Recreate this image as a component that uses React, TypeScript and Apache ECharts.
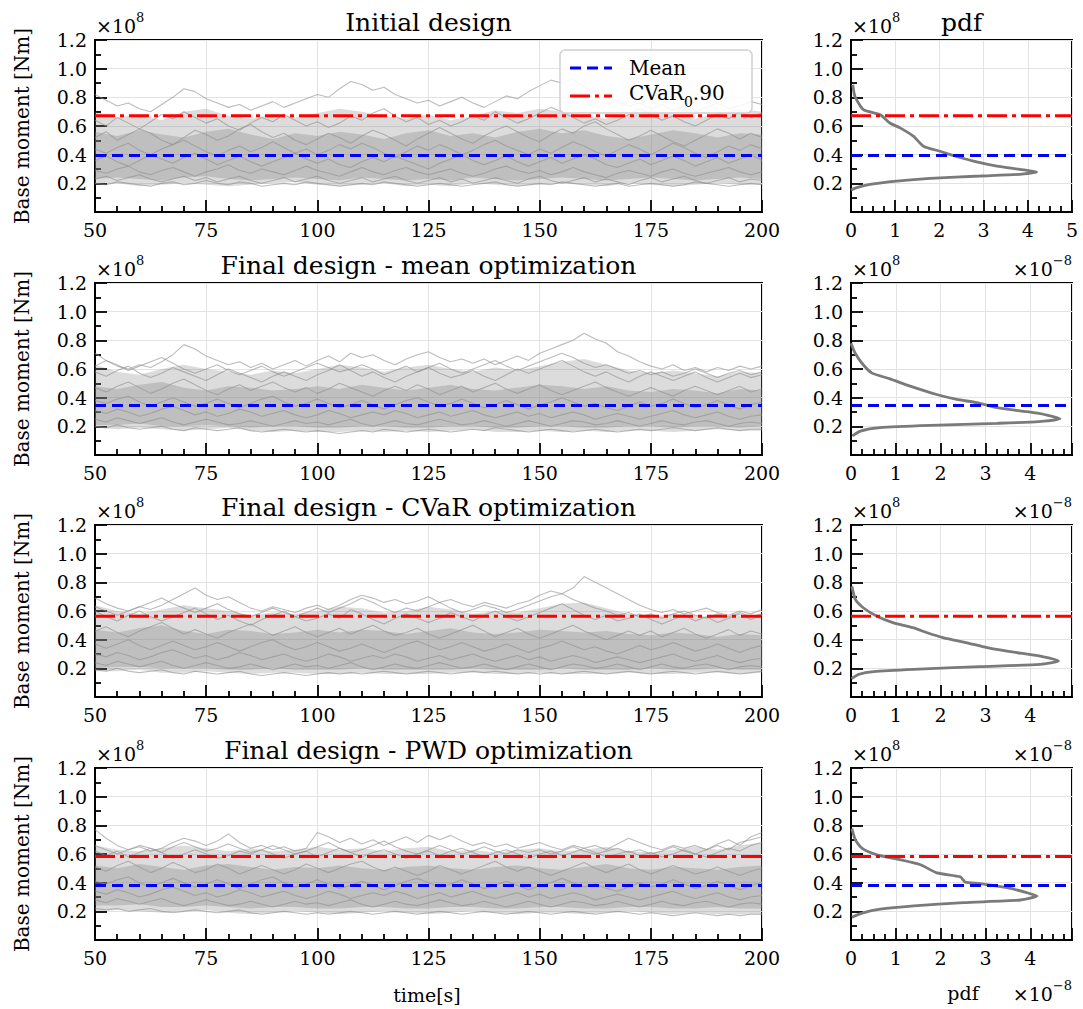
import React, { useEffect, useRef } from 'react';
import * as echarts from 'echarts';

// ---------- time samples ----------
const T_FINE = [50, 52.5, 55, 57.5, 60, 62.5, 65, 67.5, 70, 72.5, 75, 77.5, 80, 82.5, 85, 87.5, 90, 92.5, 95, 97.5, 100, 102.5, 105, 107.5, 110, 112.5, 115, 117.5, 120, 122.5, 125, 127.5, 130, 132.5, 135, 137.5, 140, 142.5, 145, 147.5, 150, 152.5, 155, 157.5, 160, 162.5, 165, 167.5, 170, 172.5, 175, 177.5, 180, 182.5, 185, 187.5, 190, 192.5, 195, 197.5, 200];
const T_BAND = [50, 55, 60, 65, 70, 75, 80, 85, 90, 95, 100, 105, 110, 115, 120, 125, 130, 135, 140, 145, 150, 155, 160, 165, 170, 175, 180, 185, 190, 195, 200];

// ---------- panel 1: initial design (x1e8 Nm) ----------
const P1_TRACES = [
  [0.82, 0.78, 0.74, 0.76, 0.72, 0.70, 0.75, 0.80, 0.86, 0.84, 0.79, 0.76, 0.73, 0.75, 0.71, 0.74, 0.77, 0.73, 0.76, 0.79, 0.82, 0.80, 0.86, 0.91, 0.89, 0.85, 0.87, 0.82, 0.79, 0.76, 0.78, 0.74, 0.77, 0.80, 0.76, 0.73, 0.77, 0.81, 0.79, 0.84, 0.88, 0.92, 0.90, 0.93, 0.87, 0.84, 0.80, 0.77, 0.74, 0.76, 0.72, 0.75, 0.71, 0.74, 0.70, 0.73, 0.76, 0.72, 0.74, 0.77, 0.75],
  [0.64, 0.60, 0.66, 0.62, 0.58, 0.63, 0.68, 0.65, 0.70, 0.66, 0.62, 0.65, 0.60, 0.57, 0.62, 0.66, 0.63, 0.68, 0.64, 0.60, 0.63, 0.59, 0.62, 0.67, 0.64, 0.69, 0.72, 0.67, 0.63, 0.66, 0.61, 0.64, 0.60, 0.63, 0.67, 0.64, 0.70, 0.66, 0.62, 0.65, 0.69, 0.73, 0.70, 0.66, 0.62, 0.65, 0.61, 0.64, 0.68, 0.72, 0.68, 0.64, 0.67, 0.63, 0.60, 0.64, 0.68, 0.65, 0.70, 0.66, 0.69],
  [0.52, 0.56, 0.50, 0.54, 0.58, 0.55, 0.50, 0.47, 0.52, 0.57, 0.54, 0.50, 0.53, 0.58, 0.61, 0.56, 0.52, 0.55, 0.50, 0.47, 0.51, 0.55, 0.52, 0.48, 0.53, 0.57, 0.54, 0.50, 0.46, 0.51, 0.55, 0.59, 0.55, 0.51, 0.48, 0.53, 0.57, 0.60, 0.56, 0.52, 0.49, 0.54, 0.58, 0.55, 0.60, 0.63, 0.58, 0.54, 0.50, 0.53, 0.57, 0.53, 0.49, 0.46, 0.50, 0.54, 0.58, 0.55, 0.51, 0.55, 0.52],
  [0.44, 0.41, 0.45, 0.48, 0.43, 0.40, 0.44, 0.47, 0.50, 0.46, 0.42, 0.39, 0.43, 0.46, 0.42, 0.45, 0.49, 0.45, 0.41, 0.44, 0.40, 0.43, 0.47, 0.44, 0.48, 0.45, 0.41, 0.38, 0.42, 0.46, 0.43, 0.47, 0.44, 0.40, 0.43, 0.47, 0.50, 0.46, 0.43, 0.40, 0.44, 0.41, 0.45, 0.49, 0.46, 0.42, 0.39, 0.43, 0.47, 0.44, 0.40, 0.44, 0.48, 0.45, 0.41, 0.38, 0.42, 0.46, 0.43, 0.47, 0.44],
  [0.36, 0.39, 0.35, 0.32, 0.36, 0.40, 0.37, 0.34, 0.38, 0.41, 0.37, 0.33, 0.36, 0.39, 0.35, 0.32, 0.35, 0.38, 0.41, 0.37, 0.34, 0.37, 0.33, 0.31, 0.35, 0.38, 0.35, 0.39, 0.36, 0.33, 0.30, 0.34, 0.37, 0.40, 0.36, 0.33, 0.36, 0.39, 0.35, 0.32, 0.35, 0.38, 0.34, 0.37, 0.40, 0.37, 0.33, 0.31, 0.34, 0.37, 0.33, 0.36, 0.39, 0.36, 0.32, 0.35, 0.38, 0.34, 0.37, 0.40, 0.36],
  [0.29, 0.27, 0.30, 0.32, 0.28, 0.26, 0.29, 0.31, 0.28, 0.25, 0.28, 0.30, 0.33, 0.29, 0.27, 0.30, 0.28, 0.26, 0.29, 0.32, 0.29, 0.27, 0.25, 0.28, 0.31, 0.28, 0.26, 0.29, 0.31, 0.28, 0.26, 0.28, 0.30, 0.27, 0.25, 0.27, 0.30, 0.32, 0.29, 0.27, 0.29, 0.26, 0.28, 0.31, 0.28, 0.26, 0.24, 0.27, 0.29, 0.27, 0.25, 0.28, 0.30, 0.27, 0.25, 0.27, 0.29, 0.31, 0.28, 0.26, 0.28],
  [0.23, 0.25, 0.22, 0.24, 0.26, 0.23, 0.21, 0.23, 0.25, 0.22, 0.24, 0.21, 0.23, 0.25, 0.22, 0.20, 0.22, 0.24, 0.21, 0.23, 0.25, 0.22, 0.20, 0.22, 0.24, 0.21, 0.23, 0.25, 0.22, 0.20, 0.22, 0.24, 0.21, 0.23, 0.20, 0.22, 0.24, 0.22, 0.20, 0.23, 0.25, 0.22, 0.20, 0.22, 0.24, 0.21, 0.23, 0.21, 0.19, 0.22, 0.24, 0.21, 0.23, 0.25, 0.22, 0.20, 0.22, 0.24, 0.21, 0.23, 0.22],
  [0.20, 0.19, 0.21, 0.20, 0.19, 0.18, 0.20, 0.21, 0.19, 0.20, 0.22, 0.20, 0.19, 0.21, 0.20, 0.18, 0.19, 0.20, 0.19, 0.21, 0.20, 0.19, 0.18, 0.19, 0.20, 0.19, 0.21, 0.20, 0.19, 0.18, 0.19, 0.20, 0.19, 0.18, 0.19, 0.20, 0.21, 0.19, 0.18, 0.19, 0.20, 0.19, 0.21, 0.20, 0.19, 0.18, 0.19, 0.20, 0.18, 0.19, 0.20, 0.19, 0.18, 0.19, 0.21, 0.20, 0.19, 0.18, 0.19, 0.20, 0.19],
];
const P1_OUTER_LO = [0.19, 0.20, 0.18, 0.19, 0.20, 0.19, 0.18, 0.19, 0.20, 0.21, 0.19, 0.18, 0.19, 0.20, 0.18, 0.19, 0.18, 0.20, 0.19, 0.18, 0.19, 0.20, 0.19, 0.18, 0.20, 0.19, 0.18, 0.19, 0.20, 0.19, 0.19];
const P1_OUTER_HI = [0.70, 0.66, 0.68, 0.64, 0.70, 0.72, 0.67, 0.65, 0.68, 0.66, 0.69, 0.72, 0.70, 0.67, 0.65, 0.68, 0.64, 0.67, 0.71, 0.69, 0.72, 0.70, 0.67, 0.65, 0.68, 0.71, 0.68, 0.65, 0.69, 0.72, 0.70];
const P1_CORE_LO = [0.23, 0.24, 0.23, 0.22, 0.24, 0.25, 0.23, 0.22, 0.23, 0.24, 0.23, 0.22, 0.24, 0.23, 0.22, 0.23, 0.22, 0.24, 0.23, 0.22, 0.23, 0.24, 0.23, 0.22, 0.23, 0.24, 0.23, 0.22, 0.23, 0.24, 0.23];
const P1_CORE_HI = [0.56, 0.53, 0.57, 0.54, 0.52, 0.56, 0.58, 0.54, 0.51, 0.55, 0.53, 0.56, 0.54, 0.51, 0.55, 0.57, 0.53, 0.55, 0.52, 0.56, 0.58, 0.55, 0.57, 0.53, 0.51, 0.54, 0.57, 0.55, 0.52, 0.55, 0.54];

// ---------- panel 2: mean optimization ----------
const P2_TRACES = [
  [0.71, 0.66, 0.62, 0.60, 0.63, 0.61, 0.65, 0.70, 0.77, 0.74, 0.69, 0.66, 0.63, 0.65, 0.61, 0.64, 0.60, 0.63, 0.66, 0.62, 0.66, 0.69, 0.65, 0.71, 0.68, 0.70, 0.66, 0.63, 0.67, 0.70, 0.72, 0.68, 0.65, 0.67, 0.64, 0.67, 0.63, 0.66, 0.69, 0.66, 0.71, 0.74, 0.77, 0.80, 0.85, 0.81, 0.78, 0.72, 0.69, 0.65, 0.62, 0.60, 0.63, 0.59, 0.61, 0.58, 0.61, 0.59, 0.62, 0.60, 0.62],
  [0.58, 0.55, 0.59, 0.62, 0.57, 0.54, 0.57, 0.61, 0.58, 0.55, 0.52, 0.56, 0.60, 0.57, 0.54, 0.51, 0.55, 0.58, 0.55, 0.52, 0.56, 0.59, 0.63, 0.59, 0.55, 0.58, 0.54, 0.51, 0.55, 0.58, 0.61, 0.57, 0.54, 0.56, 0.59, 0.55, 0.52, 0.56, 0.60, 0.57, 0.60, 0.63, 0.66, 0.62, 0.58, 0.55, 0.58, 0.54, 0.51, 0.55, 0.58, 0.55, 0.52, 0.55, 0.58, 0.54, 0.51, 0.54, 0.57, 0.54, 0.56],
  [0.47, 0.44, 0.48, 0.51, 0.47, 0.43, 0.46, 0.50, 0.53, 0.49, 0.45, 0.42, 0.46, 0.49, 0.45, 0.48, 0.51, 0.47, 0.44, 0.47, 0.43, 0.46, 0.50, 0.47, 0.44, 0.41, 0.45, 0.48, 0.45, 0.49, 0.46, 0.42, 0.45, 0.48, 0.44, 0.47, 0.50, 0.46, 0.43, 0.46, 0.49, 0.45, 0.42, 0.45, 0.48, 0.51, 0.47, 0.44, 0.41, 0.44, 0.47, 0.44, 0.41, 0.45, 0.48, 0.45, 0.42, 0.45, 0.48, 0.44, 0.46],
  [0.38, 0.36, 0.39, 0.41, 0.37, 0.34, 0.37, 0.40, 0.37, 0.34, 0.36, 0.39, 0.36, 0.33, 0.36, 0.39, 0.41, 0.37, 0.34, 0.36, 0.39, 0.36, 0.33, 0.35, 0.38, 0.35, 0.32, 0.35, 0.38, 0.40, 0.37, 0.34, 0.36, 0.39, 0.36, 0.33, 0.35, 0.38, 0.35, 0.32, 0.35, 0.37, 0.40, 0.37, 0.34, 0.36, 0.33, 0.31, 0.34, 0.37, 0.34, 0.36, 0.39, 0.36, 0.33, 0.35, 0.38, 0.35, 0.32, 0.35, 0.37],
  [0.31, 0.29, 0.32, 0.30, 0.27, 0.29, 0.32, 0.34, 0.31, 0.28, 0.30, 0.27, 0.29, 0.32, 0.30, 0.27, 0.29, 0.31, 0.28, 0.26, 0.28, 0.31, 0.29, 0.26, 0.28, 0.30, 0.28, 0.31, 0.29, 0.26, 0.28, 0.30, 0.27, 0.29, 0.31, 0.28, 0.26, 0.28, 0.30, 0.27, 0.29, 0.26, 0.28, 0.30, 0.28, 0.25, 0.27, 0.29, 0.27, 0.25, 0.27, 0.29, 0.31, 0.28, 0.26, 0.28, 0.30, 0.27, 0.25, 0.27, 0.28],
  [0.25, 0.23, 0.26, 0.24, 0.22, 0.24, 0.26, 0.23, 0.21, 0.23, 0.25, 0.23, 0.21, 0.22, 0.24, 0.22, 0.20, 0.22, 0.24, 0.22, 0.23, 0.21, 0.23, 0.25, 0.22, 0.20, 0.22, 0.24, 0.22, 0.21, 0.23, 0.25, 0.23, 0.21, 0.22, 0.24, 0.22, 0.20, 0.22, 0.24, 0.22, 0.20, 0.22, 0.24, 0.23, 0.21, 0.22, 0.24, 0.22, 0.20, 0.22, 0.24, 0.22, 0.21, 0.23, 0.24, 0.22, 0.20, 0.22, 0.23, 0.22],
  [0.20, 0.19, 0.21, 0.19, 0.18, 0.19, 0.20, 0.18, 0.17, 0.19, 0.18, 0.17, 0.18, 0.19, 0.17, 0.16, 0.17, 0.18, 0.17, 0.16, 0.17, 0.16, 0.15, 0.16, 0.17, 0.16, 0.18, 0.17, 0.16, 0.17, 0.18, 0.17, 0.16, 0.17, 0.18, 0.17, 0.19, 0.18, 0.17, 0.16, 0.17, 0.18, 0.17, 0.16, 0.17, 0.18, 0.17, 0.16, 0.17, 0.18, 0.17, 0.18, 0.19, 0.18, 0.17, 0.18, 0.19, 0.18, 0.17, 0.18, 0.18],
  [0.62, 0.66, 0.63, 0.59, 0.62, 0.65, 0.68, 0.64, 0.60, 0.57, 0.60, 0.63, 0.59, 0.56, 0.59, 0.62, 0.58, 0.55, 0.58, 0.61, 0.64, 0.61, 0.58, 0.60, 0.63, 0.60, 0.56, 0.59, 0.62, 0.58, 0.61, 0.64, 0.60, 0.57, 0.60, 0.63, 0.66, 0.62, 0.59, 0.62, 0.65, 0.68, 0.71, 0.68, 0.64, 0.61, 0.63, 0.60, 0.57, 0.59, 0.56, 0.58, 0.55, 0.57, 0.60, 0.57, 0.54, 0.57, 0.59, 0.56, 0.58],
];
const P2_OUTER_LO = [0.19, 0.18, 0.19, 0.18, 0.17, 0.18, 0.19, 0.17, 0.16, 0.17, 0.16, 0.16, 0.17, 0.16, 0.17, 0.16, 0.17, 0.18, 0.16, 0.16, 0.17, 0.16, 0.17, 0.16, 0.17, 0.17, 0.16, 0.17, 0.18, 0.17, 0.17];
const P2_OUTER_HI = [0.63, 0.58, 0.56, 0.60, 0.63, 0.60, 0.58, 0.56, 0.59, 0.57, 0.60, 0.63, 0.61, 0.58, 0.61, 0.63, 0.60, 0.58, 0.61, 0.59, 0.62, 0.65, 0.67, 0.63, 0.59, 0.57, 0.59, 0.57, 0.55, 0.58, 0.57];
const P2_CORE_LO = [0.21, 0.21, 0.22, 0.20, 0.20, 0.21, 0.20, 0.19, 0.20, 0.20, 0.19, 0.19, 0.20, 0.20, 0.19, 0.19, 0.20, 0.20, 0.19, 0.19, 0.20, 0.20, 0.19, 0.19, 0.20, 0.20, 0.19, 0.20, 0.20, 0.19, 0.20];
const P2_CORE_HI = [0.48, 0.46, 0.49, 0.51, 0.47, 0.45, 0.48, 0.47, 0.45, 0.46, 0.48, 0.46, 0.49, 0.47, 0.45, 0.47, 0.49, 0.46, 0.45, 0.47, 0.49, 0.48, 0.46, 0.48, 0.45, 0.44, 0.46, 0.45, 0.43, 0.46, 0.45];

// ---------- panel 3: CVaR optimization ----------
const P3_TRACES = [
  [0.69, 0.65, 0.62, 0.60, 0.63, 0.61, 0.64, 0.68, 0.72, 0.76, 0.71, 0.68, 0.70, 0.66, 0.62, 0.60, 0.63, 0.61, 0.59, 0.62, 0.64, 0.61, 0.64, 0.68, 0.71, 0.69, 0.66, 0.68, 0.65, 0.67, 0.70, 0.66, 0.68, 0.65, 0.63, 0.66, 0.64, 0.62, 0.65, 0.67, 0.71, 0.74, 0.72, 0.76, 0.84, 0.80, 0.76, 0.72, 0.68, 0.64, 0.61, 0.59, 0.61, 0.58, 0.60, 0.62, 0.59, 0.57, 0.60, 0.58, 0.61],
  [0.60, 0.56, 0.53, 0.57, 0.60, 0.56, 0.53, 0.56, 0.59, 0.62, 0.58, 0.54, 0.57, 0.53, 0.50, 0.54, 0.57, 0.60, 0.56, 0.53, 0.55, 0.58, 0.55, 0.61, 0.58, 0.54, 0.51, 0.55, 0.58, 0.55, 0.52, 0.55, 0.59, 0.56, 0.53, 0.57, 0.60, 0.56, 0.53, 0.56, 0.59, 0.62, 0.65, 0.61, 0.57, 0.54, 0.57, 0.53, 0.55, 0.58, 0.54, 0.51, 0.54, 0.57, 0.53, 0.56, 0.52, 0.55, 0.58, 0.54, 0.57],
  [0.46, 0.49, 0.45, 0.42, 0.46, 0.49, 0.52, 0.48, 0.44, 0.47, 0.44, 0.41, 0.45, 0.48, 0.51, 0.47, 0.43, 0.46, 0.49, 0.45, 0.42, 0.45, 0.48, 0.44, 0.47, 0.50, 0.46, 0.43, 0.45, 0.48, 0.44, 0.41, 0.44, 0.47, 0.50, 0.46, 0.42, 0.45, 0.48, 0.44, 0.41, 0.44, 0.47, 0.50, 0.46, 0.43, 0.40, 0.43, 0.46, 0.43, 0.46, 0.42, 0.45, 0.48, 0.44, 0.41, 0.44, 0.47, 0.43, 0.46, 0.44],
  [0.37, 0.34, 0.37, 0.40, 0.36, 0.33, 0.36, 0.39, 0.36, 0.33, 0.35, 0.38, 0.35, 0.32, 0.35, 0.38, 0.40, 0.36, 0.33, 0.35, 0.38, 0.35, 0.32, 0.34, 0.37, 0.34, 0.31, 0.34, 0.37, 0.39, 0.36, 0.33, 0.35, 0.38, 0.35, 0.32, 0.34, 0.37, 0.34, 0.31, 0.34, 0.36, 0.39, 0.36, 0.33, 0.35, 0.32, 0.30, 0.33, 0.36, 0.33, 0.35, 0.38, 0.35, 0.32, 0.34, 0.37, 0.34, 0.31, 0.34, 0.36],
  [0.30, 0.28, 0.31, 0.29, 0.26, 0.28, 0.31, 0.33, 0.30, 0.27, 0.29, 0.26, 0.28, 0.31, 0.29, 0.26, 0.28, 0.30, 0.27, 0.25, 0.27, 0.30, 0.28, 0.25, 0.27, 0.29, 0.27, 0.30, 0.28, 0.25, 0.27, 0.29, 0.26, 0.28, 0.30, 0.27, 0.25, 0.27, 0.29, 0.26, 0.28, 0.25, 0.27, 0.29, 0.27, 0.24, 0.26, 0.28, 0.26, 0.24, 0.26, 0.28, 0.30, 0.27, 0.25, 0.27, 0.29, 0.26, 0.24, 0.26, 0.27],
  [0.24, 0.22, 0.25, 0.23, 0.21, 0.23, 0.25, 0.22, 0.20, 0.22, 0.24, 0.22, 0.20, 0.21, 0.23, 0.21, 0.19, 0.21, 0.23, 0.21, 0.22, 0.20, 0.22, 0.24, 0.21, 0.19, 0.21, 0.23, 0.21, 0.20, 0.22, 0.24, 0.22, 0.20, 0.21, 0.23, 0.21, 0.19, 0.21, 0.23, 0.21, 0.19, 0.21, 0.23, 0.22, 0.20, 0.21, 0.23, 0.21, 0.19, 0.21, 0.23, 0.21, 0.20, 0.22, 0.23, 0.21, 0.19, 0.21, 0.22, 0.21],
  [0.19, 0.18, 0.20, 0.18, 0.17, 0.18, 0.19, 0.17, 0.16, 0.18, 0.17, 0.16, 0.17, 0.18, 0.16, 0.15, 0.16, 0.17, 0.16, 0.15, 0.16, 0.17, 0.16, 0.17, 0.16, 0.17, 0.18, 0.17, 0.16, 0.17, 0.18, 0.17, 0.16, 0.17, 0.18, 0.17, 0.18, 0.17, 0.16, 0.17, 0.16, 0.17, 0.16, 0.17, 0.18, 0.17, 0.16, 0.17, 0.18, 0.17, 0.16, 0.17, 0.18, 0.17, 0.16, 0.17, 0.18, 0.17, 0.16, 0.17, 0.18],
  [0.63, 0.60, 0.57, 0.60, 0.63, 0.66, 0.69, 0.65, 0.62, 0.59, 0.62, 0.65, 0.61, 0.58, 0.56, 0.59, 0.62, 0.59, 0.56, 0.59, 0.62, 0.59, 0.62, 0.65, 0.69, 0.66, 0.62, 0.59, 0.62, 0.60, 0.63, 0.66, 0.62, 0.59, 0.61, 0.64, 0.62, 0.59, 0.61, 0.64, 0.67, 0.70, 0.72, 0.68, 0.65, 0.62, 0.60, 0.57, 0.59, 0.56, 0.58, 0.55, 0.58, 0.60, 0.57, 0.55, 0.58, 0.56, 0.59, 0.56, 0.58],
];
const P3_OUTER_LO = [0.18, 0.18, 0.19, 0.17, 0.17, 0.18, 0.17, 0.16, 0.17, 0.17, 0.16, 0.16, 0.17, 0.16, 0.16, 0.16, 0.17, 0.17, 0.16, 0.16, 0.17, 0.16, 0.16, 0.16, 0.17, 0.16, 0.16, 0.17, 0.17, 0.16, 0.17];
const P3_OUTER_HI = [0.64, 0.60, 0.58, 0.61, 0.64, 0.62, 0.60, 0.57, 0.59, 0.58, 0.60, 0.63, 0.62, 0.59, 0.60, 0.63, 0.61, 0.58, 0.60, 0.59, 0.62, 0.65, 0.66, 0.62, 0.58, 0.56, 0.58, 0.57, 0.55, 0.57, 0.56];
const P3_CORE_LO = [0.20, 0.21, 0.21, 0.20, 0.20, 0.20, 0.19, 0.19, 0.20, 0.19, 0.19, 0.19, 0.20, 0.19, 0.19, 0.19, 0.19, 0.20, 0.19, 0.19, 0.19, 0.20, 0.19, 0.19, 0.19, 0.20, 0.19, 0.19, 0.20, 0.19, 0.19];
const P3_CORE_HI = [0.47, 0.45, 0.48, 0.50, 0.46, 0.44, 0.47, 0.46, 0.44, 0.45, 0.47, 0.45, 0.47, 0.46, 0.44, 0.46, 0.48, 0.45, 0.44, 0.45, 0.47, 0.46, 0.45, 0.46, 0.44, 0.43, 0.45, 0.44, 0.42, 0.44, 0.43];

// ---------- panel 4: PWD optimization ----------
const P4_TRACES = [
  [0.77, 0.71, 0.66, 0.63, 0.65, 0.62, 0.64, 0.68, 0.71, 0.69, 0.66, 0.69, 0.74, 0.68, 0.64, 0.66, 0.63, 0.65, 0.62, 0.64, 0.75, 0.72, 0.68, 0.71, 0.67, 0.70, 0.66, 0.69, 0.72, 0.68, 0.73, 0.70, 0.73, 0.69, 0.66, 0.68, 0.65, 0.67, 0.64, 0.66, 0.68, 0.65, 0.63, 0.66, 0.64, 0.66, 0.63, 0.67, 0.71, 0.68, 0.65, 0.63, 0.66, 0.64, 0.66, 0.63, 0.67, 0.70, 0.66, 0.72, 0.75],
  [0.62, 0.59, 0.62, 0.58, 0.61, 0.64, 0.61, 0.57, 0.60, 0.63, 0.60, 0.57, 0.59, 0.62, 0.60, 0.63, 0.60, 0.57, 0.60, 0.62, 0.58, 0.61, 0.64, 0.61, 0.58, 0.61, 0.63, 0.60, 0.57, 0.60, 0.62, 0.59, 0.62, 0.64, 0.61, 0.58, 0.61, 0.63, 0.60, 0.57, 0.60, 0.62, 0.59, 0.61, 0.64, 0.61, 0.58, 0.60, 0.62, 0.59, 0.61, 0.58, 0.60, 0.63, 0.60, 0.58, 0.61, 0.64, 0.62, 0.66, 0.68],
  [0.51, 0.48, 0.52, 0.55, 0.51, 0.47, 0.50, 0.54, 0.51, 0.47, 0.49, 0.53, 0.50, 0.46, 0.49, 0.52, 0.49, 0.46, 0.49, 0.53, 0.50, 0.47, 0.50, 0.53, 0.55, 0.51, 0.48, 0.51, 0.48, 0.45, 0.48, 0.52, 0.49, 0.46, 0.49, 0.52, 0.55, 0.51, 0.48, 0.51, 0.48, 0.45, 0.48, 0.51, 0.54, 0.50, 0.47, 0.50, 0.53, 0.49, 0.46, 0.49, 0.52, 0.49, 0.46, 0.48, 0.51, 0.48, 0.45, 0.48, 0.50],
  [0.41, 0.39, 0.42, 0.44, 0.40, 0.37, 0.40, 0.43, 0.40, 0.37, 0.39, 0.42, 0.39, 0.36, 0.39, 0.42, 0.44, 0.40, 0.37, 0.39, 0.42, 0.39, 0.36, 0.38, 0.41, 0.38, 0.35, 0.38, 0.41, 0.43, 0.40, 0.37, 0.39, 0.42, 0.39, 0.36, 0.38, 0.41, 0.38, 0.35, 0.38, 0.40, 0.43, 0.40, 0.37, 0.39, 0.36, 0.34, 0.37, 0.40, 0.37, 0.39, 0.42, 0.39, 0.36, 0.38, 0.41, 0.38, 0.35, 0.38, 0.40],
  [0.34, 0.32, 0.35, 0.33, 0.30, 0.32, 0.35, 0.37, 0.34, 0.31, 0.33, 0.30, 0.32, 0.35, 0.33, 0.30, 0.32, 0.34, 0.31, 0.29, 0.31, 0.34, 0.32, 0.29, 0.31, 0.33, 0.31, 0.34, 0.32, 0.29, 0.31, 0.33, 0.30, 0.32, 0.34, 0.31, 0.29, 0.31, 0.33, 0.30, 0.32, 0.29, 0.31, 0.33, 0.31, 0.28, 0.30, 0.32, 0.30, 0.28, 0.30, 0.32, 0.34, 0.31, 0.29, 0.31, 0.33, 0.30, 0.28, 0.30, 0.31],
  [0.28, 0.26, 0.29, 0.27, 0.25, 0.27, 0.29, 0.26, 0.24, 0.26, 0.28, 0.26, 0.24, 0.25, 0.27, 0.25, 0.23, 0.25, 0.27, 0.25, 0.26, 0.24, 0.26, 0.28, 0.25, 0.23, 0.25, 0.27, 0.25, 0.24, 0.26, 0.28, 0.26, 0.24, 0.25, 0.27, 0.25, 0.23, 0.25, 0.27, 0.25, 0.23, 0.25, 0.27, 0.26, 0.24, 0.25, 0.27, 0.25, 0.23, 0.25, 0.27, 0.25, 0.24, 0.26, 0.27, 0.25, 0.23, 0.25, 0.26, 0.25],
  [0.22, 0.21, 0.22, 0.20, 0.21, 0.22, 0.20, 0.19, 0.20, 0.21, 0.20, 0.19, 0.20, 0.21, 0.19, 0.18, 0.19, 0.20, 0.19, 0.18, 0.19, 0.18, 0.19, 0.20, 0.19, 0.18, 0.19, 0.20, 0.19, 0.18, 0.19, 0.20, 0.19, 0.18, 0.19, 0.20, 0.19, 0.18, 0.19, 0.20, 0.19, 0.18, 0.19, 0.20, 0.19, 0.18, 0.19, 0.20, 0.19, 0.18, 0.19, 0.18, 0.17, 0.18, 0.19, 0.18, 0.17, 0.18, 0.17, 0.18, 0.18],
  [0.66, 0.63, 0.60, 0.63, 0.66, 0.64, 0.61, 0.65, 0.68, 0.65, 0.62, 0.64, 0.67, 0.64, 0.61, 0.63, 0.66, 0.63, 0.60, 0.62, 0.65, 0.68, 0.64, 0.61, 0.63, 0.66, 0.69, 0.65, 0.62, 0.60, 0.63, 0.66, 0.63, 0.60, 0.62, 0.65, 0.62, 0.60, 0.63, 0.61, 0.63, 0.60, 0.62, 0.65, 0.62, 0.60, 0.62, 0.64, 0.61, 0.63, 0.60, 0.62, 0.65, 0.62, 0.60, 0.63, 0.66, 0.63, 0.68, 0.70, 0.72],
];
const P4_OUTER_LO = [0.20, 0.21, 0.20, 0.19, 0.20, 0.21, 0.19, 0.18, 0.19, 0.20, 0.19, 0.18, 0.19, 0.20, 0.19, 0.18, 0.19, 0.20, 0.19, 0.18, 0.19, 0.19, 0.18, 0.19, 0.20, 0.19, 0.18, 0.19, 0.18, 0.18, 0.18];
const P4_OUTER_HI = [0.66, 0.63, 0.62, 0.64, 0.66, 0.64, 0.62, 0.64, 0.62, 0.63, 0.65, 0.63, 0.64, 0.62, 0.64, 0.65, 0.62, 0.63, 0.61, 0.63, 0.64, 0.62, 0.63, 0.65, 0.62, 0.61, 0.63, 0.65, 0.63, 0.66, 0.68];
const P4_CORE_LO = [0.24, 0.24, 0.25, 0.23, 0.23, 0.24, 0.23, 0.22, 0.23, 0.23, 0.22, 0.22, 0.23, 0.23, 0.22, 0.22, 0.23, 0.23, 0.22, 0.22, 0.23, 0.23, 0.22, 0.22, 0.23, 0.23, 0.22, 0.22, 0.23, 0.22, 0.22];
const P4_CORE_HI = [0.52, 0.50, 0.53, 0.51, 0.49, 0.52, 0.53, 0.51, 0.49, 0.51, 0.50, 0.52, 0.50, 0.49, 0.51, 0.52, 0.50, 0.49, 0.51, 0.52, 0.50, 0.49, 0.51, 0.53, 0.50, 0.49, 0.51, 0.50, 0.49, 0.51, 0.52];

// ---------- statistics (x1e8 Nm) ----------
const MEAN_VALUES = [0.394, 0.346, null, 0.381];
const CVAR_VALUES = [0.672, null, 0.563, 0.582];

// ---------- pdf curves (density x1e-8, moment x1e8) ----------
const PDF1_DENS = [0.04, 0.09, 0.28, 0.66, 0.88, 1.11, 1.41, 1.64, 2.01, 2.31, 2.77, 3.30, 3.82, 4.20, 3.82, 2.93, 1.79, 1.03, 0.43, 0.13, 0.0];
const PDF1_MOM = [0.888, 0.806, 0.714, 0.679, 0.621, 0.587, 0.529, 0.459, 0.424, 0.394, 0.355, 0.320, 0.297, 0.279, 0.263, 0.251, 0.235, 0.216, 0.193, 0.170, 0.153];
const PDF2_DENS = [0.0, 0.09, 0.24, 0.46, 0.87, 1.32, 1.91, 2.36, 2.81, 3.26, 3.93, 4.37, 4.66, 4.19, 3.26, 1.77, 0.65, 0.21, 0.03];
const PDF2_MOM = [0.78, 0.712, 0.642, 0.573, 0.531, 0.480, 0.422, 0.388, 0.365, 0.330, 0.302, 0.279, 0.253, 0.233, 0.221, 0.207, 0.191, 0.167, 0.133];
const PDF3_DENS = [0.02, 0.10, 0.28, 0.58, 0.95, 1.40, 1.70, 2.07, 2.59, 3.03, 3.63, 4.22, 4.63, 4.22, 2.88, 1.40, 0.51, 0.17, 0.01];
const PDF3_MOM = [0.772, 0.679, 0.621, 0.563, 0.517, 0.482, 0.448, 0.413, 0.378, 0.344, 0.313, 0.286, 0.251, 0.228, 0.212, 0.193, 0.177, 0.158, 0.128];
const PDF4_DENS = [0.02, 0.10, 0.25, 0.58, 1.03, 1.55, 1.92, 2.44, 2.55, 2.88, 3.48, 3.92, 4.15, 3.78, 2.51, 1.40, 0.65, 0.25, 0.02];
const PDF4_MOM = [0.777, 0.697, 0.639, 0.594, 0.564, 0.525, 0.468, 0.440, 0.404, 0.394, 0.365, 0.330, 0.307, 0.279, 0.261, 0.238, 0.215, 0.188, 0.159];

const PDF_X_MAX = [5, 4.93, 4.93, 4.93];
const Y_MAX = 1.2;

const ROW_TITLES = ['Initial design', 'Final design - mean optimization', 'Final design - CVaR optimization', 'Final design - PWD optimization'];

const PANELS = [
  { traces: P1_TRACES, olo: P1_OUTER_LO, ohi: P1_OUTER_HI, clo: P1_CORE_LO, chi: P1_CORE_HI, dens: PDF1_DENS, mom: PDF1_MOM },
  { traces: P2_TRACES, olo: P2_OUTER_LO, ohi: P2_OUTER_HI, clo: P2_CORE_LO, chi: P2_CORE_HI, dens: PDF2_DENS, mom: PDF2_MOM },
  { traces: P3_TRACES, olo: P3_OUTER_LO, ohi: P3_OUTER_HI, clo: P3_CORE_LO, chi: P3_CORE_HI, dens: PDF3_DENS, mom: PDF3_MOM },
  { traces: P4_TRACES, olo: P4_OUTER_LO, ohi: P4_OUTER_HI, clo: P4_CORE_LO, chi: P4_CORE_HI, dens: PDF4_DENS, mom: PDF4_MOM },
];

// ---------- layout ----------
const FONT = "'DejaVu Serif', serif";
const ROW_TOPS = [40, 283, 525, 768];
const ROW_H = 172;
const L_LEFT = 95, L_W = 667;
const R_LEFT = 851, R_W = 221;
const BLUE = '#0000ff';
const RED = '#ff0000';
const DASH = [11, 6];
const DASHDOT = [20, 5, 4, 5];

function bandSeries(gi: number, lo: number[], hi: number[], fill: string) {
  return {
    type: 'custom',
    xAxisIndex: gi,
    yAxisIndex: gi,
    silent: true,
    z: 1,
    data: [[T_BAND[0], lo[0]]],
    renderItem: (params: any, api: any) => {
      const pts: number[][] = [];
      for (let i = 0; i < T_BAND.length; i++) pts.push(api.coord([T_BAND[i], hi[i]]));
      for (let i = T_BAND.length - 1; i >= 0; i--) pts.push(api.coord([T_BAND[i], lo[i]]));
      return { type: 'polygon', shape: { points: pts }, style: { fill } };
    },
  };
}

const richSci = {
  b: { fontFamily: FONT, fontSize: 19, lineHeight: 24, verticalAlign: 'bottom', fill: '#000' },
  s: { fontFamily: FONT, fontSize: 13, lineHeight: 15, verticalAlign: 'top', fill: '#000' },
};

function buildOption() {
  const grid: any[] = [];
  const xAxis: any[] = [];
  const yAxis: any[] = [];
  const series: any[] = [];
  const graphic: any[] = [];

  const tickStyle = { color: '#000', width: 1.8 };
  const labelStyle = { fontFamily: FONT, fontSize: 19, color: '#000' };
  const splitStyle = { show: true, lineStyle: { color: '#e3e3e3', width: 1 } };

  const yAxisCfg = (gi: number) => ({
    gridIndex: gi,
    type: 'value',
    min: 0,
    max: Y_MAX,
    interval: 0.2,
    axisLine: { show: true, lineStyle: { color: '#000', width: 2 } },
    axisTick: { show: true, inside: true, length: 12, lineStyle: tickStyle },
    minorTick: { show: true, splitNumber: 2, length: 6, lineStyle: tickStyle },
    axisLabel: { ...labelStyle, margin: 8, formatter: (v: number) => (v < 0.05 ? '' : v.toFixed(1)) },
    splitLine: splitStyle,
  });

  ROW_TOPS.forEach((top, r) => {
    const gl = r * 2;
    const gr = r * 2 + 1;
    const p = PANELS[r];
    grid.push({ left: L_LEFT, top, width: L_W, height: ROW_H, show: true, borderColor: '#000', borderWidth: 2, backgroundColor: '#fff' });
    grid.push({ left: R_LEFT, top, width: R_W, height: ROW_H, show: true, borderColor: '#000', borderWidth: 2, backgroundColor: '#fff' });

    xAxis.push({
      gridIndex: gl,
      type: 'value',
      min: 50,
      max: 200,
      interval: 25,
      axisLine: { show: true, lineStyle: { color: '#000', width: 2 } },
      axisTick: { show: true, inside: true, length: 12, lineStyle: tickStyle },
      minorTick: { show: true, splitNumber: 5, length: 6, lineStyle: tickStyle },
      axisLabel: { ...labelStyle, margin: 8 },
      splitLine: splitStyle,
    });
    xAxis.push({
      gridIndex: gr,
      type: 'value',
      min: 0,
      max: PDF_X_MAX[r],
      interval: 1,
      axisLine: { show: true, lineStyle: { color: '#000', width: 2 } },
      axisTick: { show: true, inside: true, length: 12, lineStyle: tickStyle },
      minorTick: { show: true, splitNumber: 4, length: 6, lineStyle: tickStyle },
      axisLabel: {
        ...labelStyle,
        margin: 8,
        formatter: (v: number) => (Math.abs(v - Math.round(v)) < 1e-6 ? String(Math.round(v)) : ''),
      },
      splitLine: splitStyle,
    });
    yAxis.push(yAxisCfg(gl));
    yAxis.push(yAxisCfg(gr));

    series.push(bandSeries(gl, p.olo, p.ohi, 'rgba(130,130,130,0.28)'));
    series.push(bandSeries(gl, p.clo, p.chi, 'rgba(130,130,130,0.32)'));
    p.traces.forEach((tr) => {
      series.push({
        type: 'line',
        xAxisIndex: gl,
        yAxisIndex: gl,
        data: tr.map((v, i) => [T_FINE[i], v]),
        showSymbol: false,
        silent: true,
        z: 2,
        lineStyle: { color: '#8f8f8f', width: 1.1, opacity: 0.6 },
      });
    });
    series.push({
      type: 'line',
      xAxisIndex: gr,
      yAxisIndex: gr,
      data: p.dens.map((d, i) => [d, p.mom[i]]),
      showSymbol: false,
      silent: true,
      smooth: 0.2,
      z: 3,
      lineStyle: { color: '#7a7a7a', width: 2.8 },
    });
    const m = MEAN_VALUES[r];
    const c = CVAR_VALUES[r];
    const hline = (gi: number, x0: number, x1: number, v: number, color: string, dash: number[]) => ({
      type: 'line',
      xAxisIndex: gi,
      yAxisIndex: gi,
      data: [[x0, v], [x1, v]],
      showSymbol: false,
      silent: true,
      z: 5,
      lineStyle: { color, width: 3, type: dash },
    });
    if (m !== null) {
      series.push(hline(gl, 50, 200, m, BLUE, DASH));
      series.push(hline(gr, 0, PDF_X_MAX[r], m, BLUE, DASH));
    }
    if (c !== null) {
      series.push(hline(gl, 50, 200, c, RED, DASHDOT));
      series.push(hline(gr, 0, PDF_X_MAX[r], c, RED, DASHDOT));
    }

    graphic.push({
      type: 'text', x: L_LEFT + L_W / 2, y: top - 18, z: 100,
      style: { text: ROW_TITLES[r], fontFamily: FONT, fontSize: 25, fill: '#000', textAlign: 'center', textVerticalAlign: 'middle' },
    });
    const sciText = (x: number, y: number, exp: string, align: string) => ({
      type: 'text', x, y, z: 100,
      style: { text: '{b|×10}{s|' + exp + '}', fill: '#000', textAlign: align, textVerticalAlign: 'middle', rich: richSci },
    });
    graphic.push(sciText(L_LEFT + 1, top - 17, '8', 'left'));
    graphic.push(sciText(R_LEFT + 1, top - 17, '8', 'left'));
    if (r > 0) graphic.push(sciText(R_LEFT + R_W, top - 17, '−8', 'right'));
    graphic.push({
      type: 'text', x: 22, y: top + ROW_H / 2, rotation: Math.PI / 2, z: 100,
      style: { text: 'Base moment [Nm]', fontFamily: FONT, fontSize: 20, fill: '#000', textAlign: 'center', textVerticalAlign: 'middle' },
    });
  });

  graphic.push({
    type: 'text', x: R_LEFT + R_W / 2, y: 22, z: 100,
    style: { text: 'pdf', fontFamily: FONT, fontSize: 25, fill: '#000', textAlign: 'center', textVerticalAlign: 'middle' },
  });
  graphic.push({
    type: 'text', x: 427, y: 995, z: 100,
    style: { text: 'time[s]', fontFamily: FONT, fontSize: 19, fill: '#000', textAlign: 'center', textVerticalAlign: 'middle' },
  });
  graphic.push({
    type: 'text', x: 963, y: 993, z: 100,
    style: { text: 'pdf', fontFamily: FONT, fontSize: 19, fill: '#000', textAlign: 'center', textVerticalAlign: 'middle' },
  });
  graphic.push({
    type: 'text', x: 1072, y: 991, z: 100,
    style: { text: '{b|×10}{s|−8}', fill: '#000', textAlign: 'right', textVerticalAlign: 'middle', rich: richSci },
  });

  graphic.push({
    type: 'group', z: 100,
    children: [
      { type: 'rect', z: 100, shape: { x: 560, y: 50, width: 192, height: 63, r: 5 }, style: { fill: 'rgba(255,255,255,0.85)', stroke: '#cfcfcf', lineWidth: 1.5 } },
      { type: 'line', z: 101, shape: { x1: 570, y1: 68, x2: 612, y2: 68 }, style: { stroke: BLUE, lineWidth: 3, lineDash: DASH } },
      { type: 'text', z: 101, x: 629, y: 68, style: { text: 'Mean', fontFamily: FONT, fontSize: 20, fill: '#000', textAlign: 'left', textVerticalAlign: 'middle' } },
      { type: 'line', z: 101, shape: { x1: 570, y1: 96, x2: 612, y2: 96 }, style: { stroke: RED, lineWidth: 3, lineDash: DASHDOT } },
      {
        type: 'text', z: 101, x: 629, y: 96,
        style: {
          text: '{b|CVaR}{s|0}{b|.90}', fill: '#000', textAlign: 'left', textVerticalAlign: 'middle',
          rich: {
            b: { fontFamily: FONT, fontSize: 20, lineHeight: 26, verticalAlign: 'top', fill: '#000' },
            s: { fontFamily: FONT, fontSize: 14, lineHeight: 16, verticalAlign: 'bottom', fill: '#000' },
          },
        },
      },
    ],
  });

  return { animation: false, backgroundColor: '#ffffff', grid, xAxis, yAxis, series, graphic };
}

export default function App() {
  const ref = useRef<HTMLDivElement>(null);
  useEffect(() => {
    if (!ref.current) return;
    const chart = echarts.init(ref.current, undefined, { renderer: 'svg' });
    chart.setOption(buildOption() as any);
    return () => chart.dispose();
  }, []);
  return (
    <div ref={ref} style={{ position: 'absolute', left: 0, top: 0, width: 1083, height: 1009, background: '#fff' }} />
  );
}
